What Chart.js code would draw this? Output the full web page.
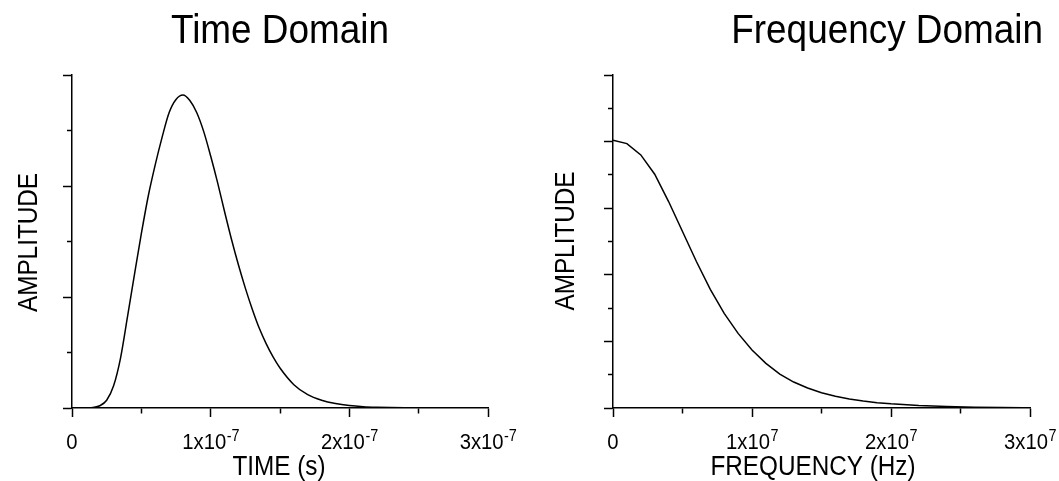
<!DOCTYPE html>
<html><head><meta charset="utf-8">
<script src="https://cdn.jsdelivr.net/npm/chart.js@4/dist/chart.umd.min.js"></script>
<style>
html,body{margin:0;padding:0;background:#fff;width:1059px;height:481px;overflow:hidden}
canvas{position:absolute;top:0}
#c1{left:0}
#c2{left:540px}
</style></head><body>
<canvas id="c1" width="540" height="481"></canvas>
<canvas id="c2" width="519" height="481"></canvas>
<script>
// ---------- data ----------
const chartTitles = ["Time Domain", "Frequency Domain"];
const axisTitlesX = ["TIME (s)", "FREQUENCY (Hz)"];
const axisTitleY = "AMPLITUDE";

const timeSeconds = [0, 1.0e-8, 1.5e-8, 2.0e-8, 2.5e-8, 3.0e-8, 3.5e-8, 4.0e-8, 4.5e-8, 5.0e-8,
  5.5e-8, 6.0e-8, 6.5e-8, 7.0e-8, 7.5e-8, 8.0e-8, 8.5e-8, 9.0e-8, 9.5e-8, 1.0e-7,
  1.05e-7, 1.1e-7, 1.15e-7, 1.2e-7, 1.25e-7, 1.3e-7, 1.35e-7, 1.4e-7, 1.45e-7, 1.5e-7,
  1.6e-7, 1.7e-7, 1.8e-7, 1.9e-7, 2.0e-7, 2.1e-7, 2.2e-7, 2.4e-7, 2.6e-7, 2.9e-7];
const timeAmplitude = [0, 0.00, 0.005, 0.02, 0.07, 0.20, 0.45, 0.82, 1.20, 1.57,
  1.91, 2.19, 2.44, 2.66, 2.78, 2.82, 2.77, 2.66, 2.49, 2.27,
  2.03, 1.77, 1.52, 1.29, 1.08, 0.89, 0.72, 0.58, 0.46, 0.36,
  0.21, 0.12, 0.07, 0.04, 0.022, 0.012, 0.007, 0.002, 0.001, 0];

const freqHz = [0, 1e6, 2e6, 3e6, 4e6, 5e6, 6e6, 7e6, 8e6, 9e6,
  1.0e7, 1.1e7, 1.2e7, 1.3e7, 1.4e7, 1.5e7, 1.6e7, 1.7e7, 1.8e7, 1.9e7,
  2.0e7, 2.2e7, 2.4e7, 2.6e7, 2.8e7, 2.95e7];
const freqAmplitude = [4.02, 3.97, 3.80, 3.51, 3.10, 2.65, 2.20, 1.78, 1.42, 1.12,
  0.87, 0.67, 0.51, 0.39, 0.30, 0.23, 0.175, 0.135, 0.105, 0.08,
  0.062, 0.037, 0.022, 0.013, 0.008, 0.005];

const timeTickValues = [0, 1e-7, 2e-7, 3e-7];
const timeTickBase = ["0", "1x10", "2x10", "3x10"];
const timeTickExp = ["", "-7", "-7", "-7"];
const freqTickValues = [0, 1e7, 2e7, 3e7];
const freqTickBase = ["0", "1x10", "2x10", "3x10"];
const freqTickExp = ["", "7", "7", "7"];

// ---------- text helpers ----------
const FONT = '"Liberation Sans", Arial, Helvetica, sans-serif';
const SX = 0.9;
function txt(ctx, s, x, y, size, align, rot) {
  ctx.save();
  ctx.translate(x, y);
  if (rot) ctx.rotate(rot);
  ctx.scale(SX, 1);
  ctx.font = size + 'px ' + FONT;
  ctx.textAlign = align;
  ctx.textBaseline = 'alphabetic';
  ctx.fillStyle = '#000';
  ctx.fillText(s, 0, 0);
  ctx.restore();
}
function textW(ctx, s, size) {
  ctx.save(); ctx.font = size + 'px ' + FONT;
  const w = ctx.measureText(s).width * SX; ctx.restore(); return w;
}
const TICK_SIZE = 22.5, EXP_SIZE = 16;
function tickLabel(ctx, x, y, base, exp) {
  const wb = textW(ctx, base, TICK_SIZE);
  const we = exp ? textW(ctx, exp, EXP_SIZE) : 0;
  const x0 = x - (wb + we) / 2;
  txt(ctx, base, x0, y, TICK_SIZE, 'left');
  if (exp) txt(ctx, exp, x0 + wb + 0.5, y - 7.5, EXP_SIZE, 'left');
}

function textPlugin(cfg) {
  return {
    id: 'texts',
    afterDraw(chart) {
      const ctx = chart.ctx;
      txt(ctx, cfg.title, cfg.titleX, 42.5, 41, cfg.titleAlign);
      txt(ctx, cfg.xTitle, cfg.xTitleX, 475, 27, 'center');
      txt(ctx, axisTitleY, cfg.yTitleX, cfg.yTitleY, 27, 'center', -Math.PI / 2);
      const xs = chart.scales.x;
      cfg.tickValues.forEach((v, i) => {
        tickLabel(ctx, xs.getPixelForValue(v), 448.5, cfg.tickBase[i], cfg.tickExp[i]);
      });
    }
  };
}

function isMajor(c) { return c.index % 2 === 0; }
function gridOpts(pos) {
  return {
    drawOnChartArea: false,
    drawTicks: true,
    tickLength: 9,
    tickWidth: 1.5,
    tickColor: '#000',
    tickBorderDash: c => isMajor(c) ? [] : (pos === 'left' ? [5, 4] : [5, 20]),
    tickBorderDashOffset: c => isMajor(c) ? 0 : (pos === 'left' ? 5 : 0)
  };
}

function makeChart(id, xs, ys, xMax, xStep, yMax, padRight, yWidth, smooth, text) {
  return new Chart(document.getElementById(id), {
    type: 'line',
    data: {
      datasets: [{
        data: xs.map((x, i) => ({x: x, y: ys[i]})),
        borderColor: '#000',
        borderWidth: 1.5,
        pointRadius: 0,
        fill: false,
        tension: smooth ? 0.4 : 0,
        cubicInterpolationMode: smooth ? 'monotone' : 'default'
      }]
    },
    options: {
      responsive: false,
      devicePixelRatio: 1,
      animation: false,
      events: [],
      layout: {padding: {left: 0, right: padRight, top: 75, bottom: 0}},
      plugins: {legend: {display: false}, tooltip: {enabled: false}, title: {display: false}},
      scales: {
        x: {
          type: 'linear', position: 'bottom', min: 0, max: xMax,
          ticks: {stepSize: xStep, display: false},
          grid: gridOpts('bottom'),
          border: {display: true, color: '#000', width: 1.5},
          afterFit: s => { s.height = 73; }
        },
        y: {
          type: 'linear', position: 'left', min: 0, max: yMax,
          ticks: {stepSize: 0.5, display: false},
          grid: gridOpts('left'),
          border: {display: true, color: '#000', width: 1.5},
          afterFit: s => { s.width = yWidth; }
        }
      }
    },
    plugins: [textPlugin(text)]
  });
}

makeChart('c1', timeSeconds, timeAmplitude, 3e-7, 5e-8, 3, 52, 72, true, {
  title: chartTitles[0], titleX: 280, titleAlign: 'center',
  xTitle: axisTitlesX[0], xTitleX: 279,
  yTitleX: 37, yTitleY: 242.5,
  tickValues: timeTickValues, tickBase: timeTickBase, tickExp: timeTickExp
});
makeChart('c2', freqHz, freqAmplitude, 3e7, 5e6, 5, 29, 73, false, {
  title: chartTitles[1], titleX: 503, titleAlign: 'right',
  xTitle: axisTitlesX[1], xTitleX: 273,
  yTitleX: 34, yTitleY: 241,
  tickValues: freqTickValues, tickBase: freqTickBase, tickExp: freqTickExp
});
</script>
</body></html>
